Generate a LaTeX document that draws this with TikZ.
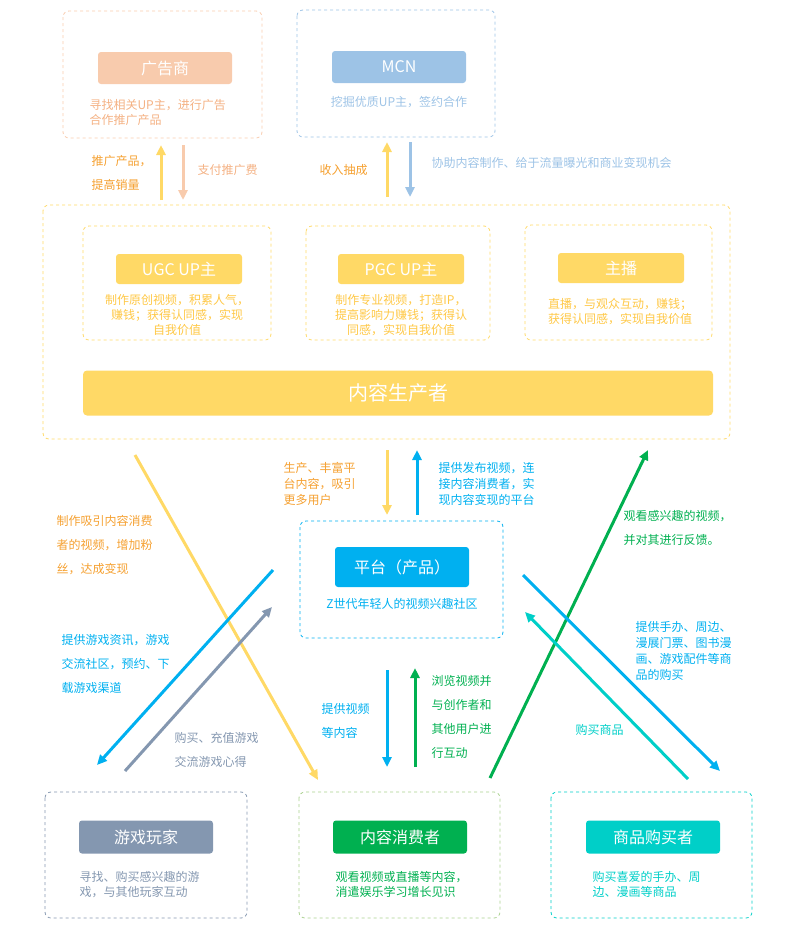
\documentclass[tikz,border=0pt]{standalone}
\usepackage{fontspec}
\setmainfont{Noto Sans CJK SC}
\usetikzlibrary{positioning,arrows.meta,calc}

\definecolor{adc}{HTML}{F8CBAD}
\definecolor{adtxt}{HTML}{F4B183}
\definecolor{mcnc}{HTML}{9DC3E6}
\definecolor{prodc}{HTML}{FFD966}
\definecolor{prodtxt}{HTML}{FFC846}
\definecolor{orangetxt}{HTML}{F5A030}
\definecolor{platc}{HTML}{00B0F0}
\definecolor{gamec}{HTML}{8497B0}
\definecolor{consc}{HTML}{00B050}
\definecolor{conslight}{HTML}{A9D18E}
\definecolor{buyc}{HTML}{00CFC8}

\tikzset{
  frame/.style={draw, dashed, rounded corners=6pt, line width=0.8pt},
  titlebox/.style={fill=#1, rounded corners=3pt, text=white, font=\fontsize{16}{18}\selectfont,
    minimum width=134pt, minimum height=32pt, inner sep=0pt},
  desc/.style={font=\fontsize{12}{15}\selectfont, align=left, text=#1},
  flow/.style={line width=3pt, draw=#1, -{Triangle[length=10pt,width=9pt]}},
}

\begin{document}
\begin{tikzpicture}[x=1pt,y=-1pt]
    \useasboundingbox (0,0) rectangle (800,946);

    % top partners
    \draw[frame, draw=adc] (63,11) rectangle (262,138);
    \node[titlebox=adc] (ad) at (165,68) {广告商};
    \node[desc=adtxt, anchor=north west] (addesc) at (86,96) {寻找相关UP主，进行广告\\合作推广产品};
    \draw[frame, draw=mcnc] (297,10) rectangle (495,137);
    \node[titlebox=mcnc] (mcn) at (399,67) {MCN};
    \node[desc=mcnc] (mcndesc) at (399,102) {挖掘优质UP主，签约合作};

    % producers
    \draw[frame, draw=prodc] (43,205) rectangle (730,439);
    \draw[frame, draw=prodc] (83,226) rectangle (271,340);
    \draw[frame, draw=prodc] (306,226) rectangle (490,340);
    \draw[frame, draw=prodc] (525,225) rectangle (712,340);
    \node[titlebox=prodc, minimum width=126pt, minimum height=30pt] (ugc) at (179,269) {UGC UP主};
    \node[titlebox=prodc, minimum width=126pt, minimum height=30pt] (pgc) at (401,269) {PGC UP主};
    \node[titlebox=prodc, minimum width=126pt, minimum height=30pt] (host) at (621,268) {主播};
    \node[desc=prodtxt, align=center] (ugcdesc) at (177,315) {制作原创视频，积累人气，\\赚钱；获得认同感，实现\\自我价值};
    \node[desc=prodtxt, align=center] (pgcdesc) at (401,315) {制作专业视频，打造IP，\\提高影响力赚钱；获得认\\同感，实现自我价值};
    \node[desc=prodtxt] (hostdesc) at (620,312) {直播，与观众互动，赚钱；\\获得认同感，实现自我价值};
    \node[fill=prodc, rounded corners=4pt, minimum width=630pt, minimum height=45pt, inner sep=0pt,
      text=white, font=\fontsize{20}{22}\selectfont] (producer) at (398,393) {内容生产者};

    % platform
    \draw[frame, draw=platc] (300,521) rectangle (503,638);
    \node[titlebox=platc, minimum height=40pt] (plat) at (402,567) {平台（产品）};
    \node[desc=platc] (platdesc) at (402,604) {Z世代年轻人的视频兴趣社区};

    % bottom roles
    \draw[frame, draw=gamec] (45,792) rectangle (247,918);
    \draw[frame, draw=conslight] (299,792) rectangle (500,918);
    \draw[frame, draw=buyc] (551,792) rectangle (752,918);
    \node[titlebox=gamec, minimum height=33pt] (game) at (146,837) {游戏玩家};
    \node[titlebox=consc, minimum height=33pt] (cons) at (400,837) {内容消费者};
    \node[titlebox=buyc, minimum height=33pt] (buy) at (653,837) {商品购买者};
    \node[desc=gamec, anchor=north west] (gamedesc) at (76,868) {寻找、购买感兴趣的游\\戏，与其他玩家互动};
    \node[desc=consc, anchor=north west] (consdesc) at (332,868) {观看视频或直播等内容，\\消遣娱乐学习增长见识};
    \node[desc=buyc, anchor=north west] (buydesc) at (589,868) {购买喜爱的手办、周\\边、漫画等商品};

    % arrow end points
    \coordinate (a1) at (161,200); \coordinate (a2) at (161,145);
    \coordinate (a3) at (183,145); \coordinate (a4) at (183,200);
    \coordinate (m1) at (387,197); \coordinate (m2) at (387,142);
    \coordinate (m3) at (410,142); \coordinate (m4) at (410,197);
    \coordinate (p1) at (387,450); \coordinate (p2) at (387,515);
    \coordinate (p3) at (417,515); \coordinate (p4) at (417,450);
    \coordinate (c1) at (387,670); \coordinate (c2) at (387,767);
    \coordinate (c3) at (415,767); \coordinate (c4) at (415,668);
    \coordinate (d1) at (135,455); \coordinate (d2) at (318,780);
    \coordinate (d3) at (490,778); \coordinate (d4) at (648,450);
    \coordinate (g1) at (273,570); \coordinate (g2) at (97,765);
    \coordinate (g3) at (125,771); \coordinate (g4) at (272,607);
    \coordinate (b1) at (523,575); \coordinate (b2) at (720,771);
    \coordinate (b3) at (688,779); \coordinate (b4) at (525,612);

    % arrows
    \draw[flow=prodc] (a1) -- (a2);
    \draw[flow=adc] (a3) -- (a4);
    \draw[flow=prodc] (m1) -- (m2);
    \draw[flow=mcnc] (m3) -- (m4);
    \draw[flow=prodc] (p1) -- (p2);
    \draw[flow=platc] (p3) -- (p4);
    \draw[flow=platc] (c1) -- (c2);
    \draw[flow=consc] (c3) -- (c4);
    \draw[flow=prodc] (d1) -- (d2);
    \draw[flow=consc] (d3) -- (d4);
    \draw[flow=platc] (g1) -- (g2);
    \draw[flow=gamec] (g3) -- (g4);
    \draw[flow=platc] (b1) -- (b2);
    \draw[flow=buyc] (b3) -- (b4);

    % arrow labels
    \tikzset{lbl/.style={desc=#1, anchor=west, font=\fontsize{12}{24}\selectfont}}
    \node[lbl=orangetxt] (l1) at (88,173) {推广产品，\\提高销量};
    \node[lbl=adtxt] (l2) at (194,170) {支付推广费};
    \node[lbl=orangetxt] (l3) at (316,170) {收入抽成};
    \node[lbl=mcnc] (l4) at (428,163) {协助内容制作、给于流量曝光和商业变现机会};
    \node[desc=orangetxt, anchor=north west, font=\fontsize{12}{16}\selectfont] (l5) at (280,459) {生产、丰富平\\台内容，吸引\\更多用户};
    \node[desc=platc, anchor=north west, font=\fontsize{12}{16}\selectfont] (l6) at (435,459) {提供发布视频，连\\接内容消费者，实\\现内容变现的平台};
    \node[lbl=orangetxt] (l7) at (53,545) {制作吸引内容消费\\者的视频，增加粉\\丝，达成变现};
    \node[lbl=platc] (l8) at (58,664) {提供游戏资讯，游戏\\交流社区，预约、下\\载游戏渠道};
    \node[lbl=gamec] (l9) at (171,750) {购买、充值游戏\\交流游戏心得};
    \node[lbl=platc] (l10) at (318,721) {提供视频\\等内容};
    \node[lbl=consc] (l11) at (428,717) {浏览视频并\\与创作者和\\其他用户进\\行互动};
    \node[lbl=consc] (l12) at (620,528) {观看感兴趣的视频，\\并对其进行反馈。};
    \node[desc=platc, anchor=north west, font=\fontsize{12}{16}\selectfont] (l13) at (632,618) {提供手办、周边、\\漫展门票、图书漫\\画、游戏配件等商\\品的购买};
    \node[lbl=buyc] (l14) at (572,730) {购买商品};
\end{tikzpicture}
\end{document}
